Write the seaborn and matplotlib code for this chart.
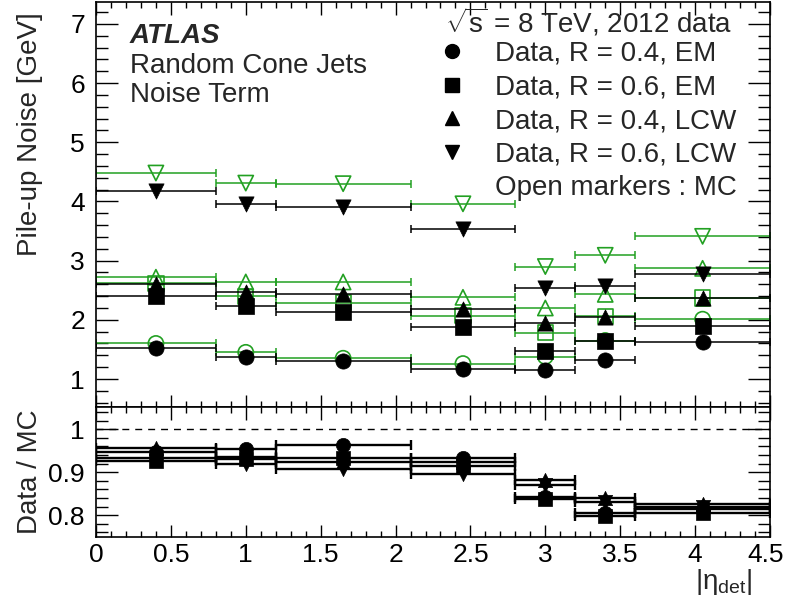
import matplotlib
matplotlib.use("Agg")
import matplotlib.pyplot as plt
import matplotlib.transforms as mtransforms
from matplotlib.lines import Line2D
from matplotlib.ticker import MultipleLocator
import numpy as np
import pandas as pd
import seaborn as sns

# |eta_det| bins
eta_edges = [0.0, 0.8, 1.2, 2.1, 2.8, 3.2, 3.6, 4.5]

# pile-up noise term [GeV], data (filled) and MC (open)
data_r4_em = [1.52, 1.38, 1.31, 1.17, 1.16, 1.32, 1.63]
data_r6_em = [2.41, 2.24, 2.13, 1.88, 1.48, 1.64, 1.89]
data_r4_lcw = [2.61, 2.47, 2.44, 2.19, 1.94, 2.05, 2.37]
data_r6_lcw = [4.18, 3.96, 3.90, 3.53, 2.53, 2.57, 2.78]

mc_r4_em = [1.60, 1.45, 1.35, 1.26, 1.38, 1.65, 2.01]
mc_r6_em = [2.62, 2.40, 2.29, 2.07, 1.78, 2.06, 2.37]
mc_r4_lcw = [2.72, 2.64, 2.64, 2.38, 2.20, 2.43, 2.87]
mc_r6_lcw = [4.48, 4.31, 4.30, 3.96, 2.90, 3.09, 3.41]

# data / MC
ratio_r4_em = [0.948, 0.955, 0.963, 0.934, 0.842, 0.804, 0.814]
ratio_r6_em = [0.926, 0.930, 0.932, 0.914, 0.838, 0.798, 0.804]
ratio_r4_lcw = [0.956, 0.935, 0.924, 0.923, 0.883, 0.841, 0.827]
ratio_r6_lcw = [0.932, 0.918, 0.907, 0.896, 0.870, 0.830, 0.820]

labels = ["Data, R = 0.4, EM", "Data, R = 0.6, EM",
          "Data, R = 0.4, LCW", "Data, R = 0.6, LCW"]
markers = ["o", "s", "^", "v"]

x_ticks = [0, 0.5, 1, 1.5, 2, 2.5, 3, 3.5, 4, 4.5]
x_ticklabels = ["0", "0.5", "1", "1.5", "2", "2.5", "3", "3.5", "4", "4.5"]
y_ticks = [1, 2, 3, 4, 5, 6, 7]
r_ticks = [0.8, 0.9, 1.0]
r_ticklabels = ["0.8", "0.9", "1"]

GREEN = "#22a022"

sns.set_theme(style="ticks")
plt.rcParams["font.family"] = ["Liberation Sans", "DejaVu Sans"]
plt.rcParams["mathtext.fontset"] = "custom"
plt.rcParams["mathtext.rm"] = "Liberation Sans"
plt.rcParams["mathtext.it"] = "Liberation Sans:italic"
plt.rcParams["axes.linewidth"] = 1.2

edges = np.array(eta_edges)
lo, hi = edges[:-1], edges[1:]
centers = (lo + hi) / 2

frames = []
for lab, mk, d, m, r in zip(labels, markers,
                            [data_r4_em, data_r6_em, data_r4_lcw, data_r6_lcw],
                            [mc_r4_em, mc_r6_em, mc_r4_lcw, mc_r6_lcw],
                            [ratio_r4_em, ratio_r6_em, ratio_r4_lcw, ratio_r6_lcw]):
    frames.append(pd.DataFrame({"eta": centers, "lo": lo, "hi": hi,
                                "data": d, "mc": m, "ratio": r,
                                "label": lab, "marker": mk}))
df = pd.concat(frames, ignore_index=True)

fig = plt.figure(figsize=(7.86, 5.98), dpi=100)
ax = fig.add_axes([96 / 786, 1 - 407 / 598, 674 / 786, 405 / 598])
ax2 = fig.add_axes([96 / 786, 1 - 537 / 598, 674 / 786, 130 / 598])

groups = list(df.groupby("label", sort=False))

# MC first (open green), then data (filled black)
for lab, g in groups:
    xerr = [g["eta"] - g["lo"], g["hi"] - g["eta"]]
    ax.errorbar(g["eta"], g["mc"], xerr=xerr, fmt="none", ecolor=GREEN,
                elinewidth=1.1, capsize=3, capthick=1.1, zorder=2)
    sns.scatterplot(x=g["eta"], y=g["mc"], marker=g["marker"].iloc[0], s=120,
                    facecolor="none", edgecolor=GREEN, linewidth=1.2,
                    ax=ax, zorder=3, legend=False)
for lab, g in groups:
    xerr = [g["eta"] - g["lo"], g["hi"] - g["eta"]]
    ax.errorbar(g["eta"], g["data"], xerr=xerr, fmt="none", ecolor="black",
                elinewidth=1.1, capsize=3, capthick=1.1, zorder=4)
    sns.scatterplot(x=g["eta"], y=g["data"], marker=g["marker"].iloc[0], s=120,
                    color="black", edgecolor="black", linewidth=0.5,
                    ax=ax, zorder=5, legend=False)
    ax2.errorbar(g["eta"], g["ratio"], xerr=xerr, fmt="none", ecolor="black",
                 elinewidth=1.7, capsize=3.5, capthick=1.7, zorder=4)
    sns.scatterplot(x=g["eta"], y=g["ratio"], marker=g["marker"].iloc[0], s=105,
                    color="black", edgecolor="black", linewidth=0.5,
                    ax=ax2, zorder=5, legend=False)

ax2.axhline(1.0, color="black", lw=1.0, ls=(0, (5, 4.3)), zorder=1)

for a in (ax, ax2):
    a.set_xlim(0, 4.5)
    a.set_xticks(x_ticks)
    a.xaxis.set_minor_locator(MultipleLocator(0.1))
    a.set_xlabel("")
    a.set_ylabel("")
    a.tick_params(which="both", direction="in", top=True, right=True,
                  labelsize=19, width=1.0, colors="black")
    a.tick_params(axis="x", which="major", length=9, pad=4.5)
    a.tick_params(axis="x", which="minor", length=4.5)
    a.tick_params(axis="y", which="major", length=16, pad=8)
    a.tick_params(axis="y", which="minor", length=8.5)
    for sp in a.spines.values():
        sp.set_visible(True)
        sp.set_color("black")

ax.set_ylim(0.527, 7.37)
ax.set_yticks(y_ticks)
ax.yaxis.set_minor_locator(MultipleLocator(0.2))
ax.tick_params(axis="x", labelbottom=False)

ax2.set_ylim(0.749, 1.052)
ax2.set_yticks(r_ticks)
ax2.set_yticklabels(r_ticklabels)
ax2.yaxis.set_minor_locator(MultipleLocator(0.02))
ax2.set_xticklabels(x_ticklabels)
# keep the last label inside the canvas
last = ax2.get_xticklabels()[-1]
last.set_transform(last.get_transform() +
                   mtransforms.ScaledTranslation(-3 / 72, 0, fig.dpi_scale_trans))

# legend
handles = [Line2D([], [], linestyle="none", marker=mk, color="black",
                  markersize=10) for mk in markers]
handles.append(Line2D([], [], linestyle="none"))
ax.legend(handles, labels + ["Open markers : MC"], loc="upper left",
          bbox_to_anchor=(435 / 786, 1 - 41 / 598), bbox_transform=fig.transFigure,
          frameon=False, fontsize=20, handlelength=1.2, handletextpad=0.97,
          borderpad=0, borderaxespad=0, labelspacing=0.27)

fig.text(445 / 786, 1 - 32 / 598, r"$\sqrt{\mathrm{s}}$ = 8 TeV, 2012 data",
         fontsize=20, ha="left", va="baseline")
fig.text(130 / 786, 1 - 43 / 598, "ATLAS", fontsize=20, fontweight="bold",
         fontstyle="italic", ha="left", va="baseline")
fig.text(130 / 786, 1 - 73 / 598, "Random Cone Jets", fontsize=20,
         ha="left", va="baseline")
fig.text(130 / 786, 1 - 102 / 598, "Noise Term", fontsize=20,
         ha="left", va="baseline")

fig.text(30 / 786, 1 - 12 / 598, "Pile-up Noise [GeV]", fontsize=20,
         rotation=90, ha="center", va="top")
fig.text(30 / 786, 1 - 472 / 598, "Data / MC", fontsize=20,
         rotation=90, ha="center", va="center")
fig.text(752 / 786, 1 - 567 / 598, r"$|\mathrm{\eta}_{\mathrm{det}}|$", fontsize=20,
         ha="right", va="top")

fig.savefig("out.png", dpi=100)
